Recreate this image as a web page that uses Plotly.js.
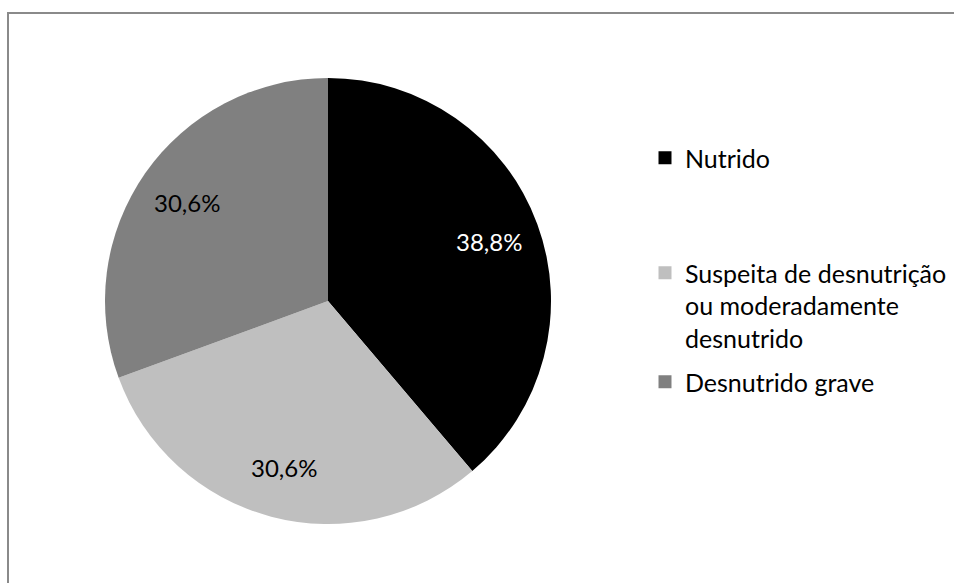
<!DOCTYPE html>
<html>
<head>
<meta charset="utf-8">
<script src="https://cdn.plot.ly/plotly-3.0.1.min.js"></script>
<style>
  html, body { margin: 0; padding: 0; background: #fff; overflow: hidden; }
  #wrap { position: relative; width: 954px; height: 583px; overflow: hidden; }
  #chart { width: 954px; height: 583px; }
  #frame { position: absolute; left: 7px; top: 12px; width: 1000px; height: 700px;
           border-left: 2px solid #8a8a8a; border-top: 2px solid #8a8a8a; pointer-events: none; }
</style>
</head>
<body>
<div id="wrap">
  <div id="chart"></div>
  <div id="frame"></div>
</div>
<script>
// Data
const categories = [
  "Nutrido",
  "Suspeita de desnutrição<br>ou moderadamente<br>desnutrido",
  "Desnutrido grave"
];
const values = [38.8, 30.6, 30.6];
const valueLabels = ["38,8%", "30,6%", "30,6%"];
const colors = ["#000000", "#bfbfbf", "#808080"];
const labelColors = ["#ffffff", "#000000", "#000000"];

const W = 954, H = 583;
const cx = 328, cy = 301, R = 223;
const FONT = "Lato, 'DejaVu Sans', sans-serif";

const pie = {
  type: "pie",
  labels: categories,
  values: values,
  textinfo: "none",
  sort: false,
  direction: "clockwise",
  rotation: 0,
  showlegend: false,
  marker: { colors: colors, line: { width: 0 } },
  domain: {
    x: [(cx - R) / W, (cx + R) / W],
    y: [(H - (cy + R)) / H, (H - (cy - R)) / H]
  },
  hoverinfo: "label+percent"
};

// value labels placed at the mid-angle of each slice (derived from the values)
const total = values.reduce((a, b) => a + b, 0);
let cum = 0;
const annotations = values.map((v, i) => {
  const mid = (cum + v / 2) / total * 2 * Math.PI;
  cum += v;
  const r = 0.77 * R;
  return {
    xref: "paper", yref: "paper",
    x: (cx + r * Math.sin(mid)) / W,
    y: 1 - (cy - r * Math.cos(mid)) / H,
    text: valueLabels[i],
    showarrow: false,
    xanchor: "center", yanchor: "middle",
    font: { family: FONT, size: 24, color: labelColors[i] }
  };
});

// legend entries, one legend per category so their spacing matches the reference
const legendIds = ["legend", "legend2", "legend3"];
const legendTops = [135, 250, 359];
const legendTraces = categories.map((c, i) => ({
  type: "scatter",
  x: [null], y: [null],
  mode: "markers",
  name: c,
  legend: legendIds[i],
  marker: { symbol: "square", size: 13, color: colors[i] },
  hoverinfo: "skip"
}));

const layout = {
  width: W,
  height: H,
  margin: { l: 0, r: 0, t: 0, b: 0 },
  paper_bgcolor: "#ffffff",
  plot_bgcolor: "rgba(0,0,0,0)",
  xaxis: { visible: false },
  yaxis: { visible: false },
  annotations: annotations
};
legendIds.forEach((id, i) => {
  layout[id] = {
    x: 645 / W, xanchor: "left",
    y: 1 - legendTops[i] / H, yanchor: "top",
    valign: "top",
    font: { family: FONT, size: 25, color: "#000000" },
    bgcolor: "rgba(0,0,0,0)"
  };
});

Plotly.newPlot("chart", [pie].concat(legendTraces), layout, { displayModeBar: false, staticPlot: true });
</script>
</body>
</html>
